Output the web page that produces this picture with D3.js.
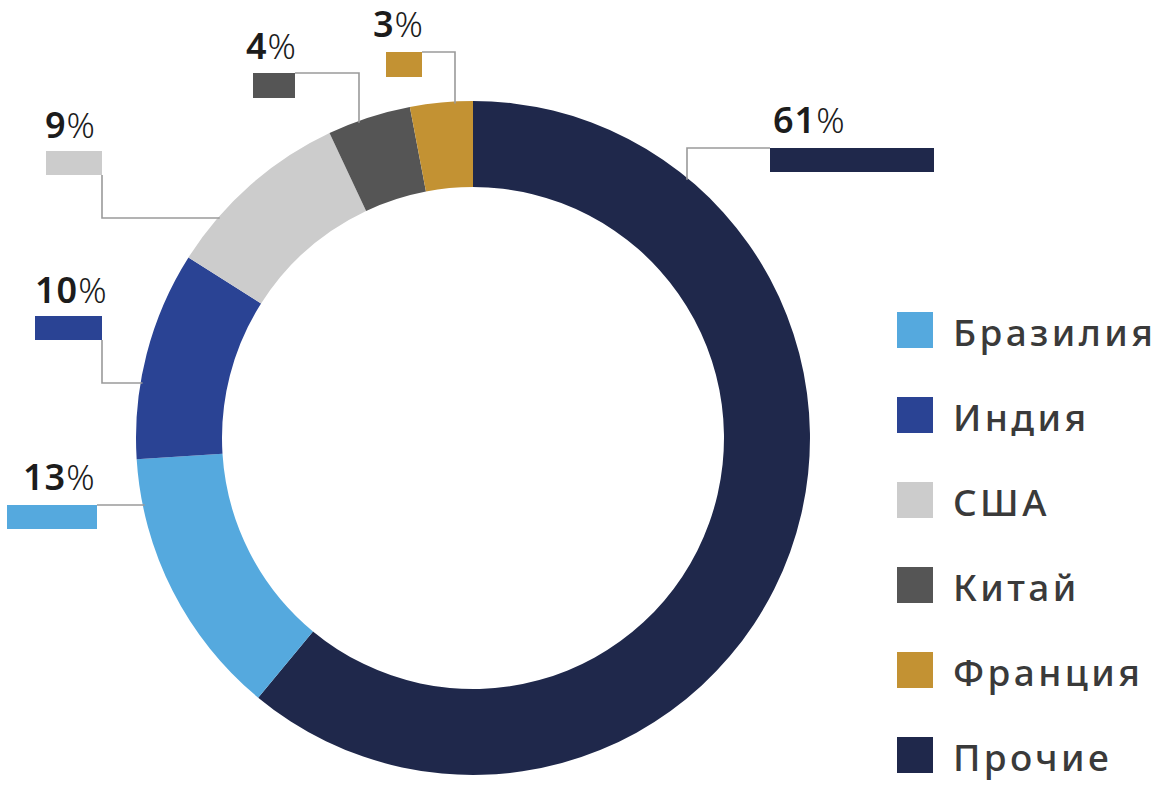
<!DOCTYPE html>
<html>
<head>
<meta charset="utf-8">
<script src="https://cdn.jsdelivr.net/npm/d3@7"></script>
<style>
  html, body { margin: 0; padding: 0; background: #ffffff; }
  svg { display: block; }
</style>
</head>
<body>
<svg id="chart" width="1167" height="795"></svg>
<script>
// ---- data ----
const categories = ["Прочие", "Бразилия", "Индия", "США", "Китай", "Франция"];
const shares = [61, 13, 10, 9, 4, 3];
const colors = ["#1f284b", "#55a9de", "#2a4394", "#cccccc", "#555555", "#c39233"];
const legendOrder = ["Бразилия", "Индия", "США", "Китай", "Франция", "Прочие"];

// ---- layout for callouts (annotation placement only) ----
const callouts = [
  { cat: "Прочие",  bar: [770, 148, 164, 24], text: [773, 133], leader: { from: [770, 148], via: 687, mode: "hv" } },
  { cat: "Франция", bar: [386, 52, 36, 25],  text: [373, 37],  leader: { from: [422, 52], via: 455, mode: "hv" } },
  { cat: "Китай",   bar: [253, 73, 42, 25],  text: [246, 59],  leader: { from: [295, 73], via: 359, mode: "hv" } },
  { cat: "США",     bar: [46, 151, 56, 24],  text: [45, 138],  leader: { from: [102, 175], via: 218, mode: "vh" } },
  { cat: "Индия",   bar: [35, 316, 67, 24],  text: [35, 303],  leader: { from: [102, 340], via: 383, mode: "vh" } },
  { cat: "Бразилия",bar: [7, 505, 90, 24],   text: [23, 490],  leader: { from: [97, 505], via: null, mode: "h" } }
];

const svg = d3.select("#chart");
const cx = 473, cy = 438, R = 337, r0 = 251;

const color = d3.scaleOrdinal().domain(categories).range(colors);

const pie = d3.pie().value(d => d.v).sort(null).startAngle(0).endAngle(2 * Math.PI);
const arcs = pie(categories.map((c, i) => ({ c, v: shares[i] })));
const arc = d3.arc().innerRadius(r0).outerRadius(R);

const g = svg.append("g").attr("transform", `translate(${cx},${cy})`);
g.selectAll("path").data(arcs).enter().append("path")
  .attr("d", arc)
  .attr("fill", d => color(d.data.c));

// leader lines
function circleY(x) { return cy - Math.sqrt(R * R - (x - cx) * (x - cx)); }
function circleX(y) { return cx - Math.sqrt(R * R - (y - cy) * (y - cy)); }

const lg = svg.append("g");
callouts.forEach(co => {
  const [x0, y0] = co.leader.from;
  let pts;
  if (co.leader.mode === "hv") {
    const x1 = co.leader.via;
    pts = [[x0, y0], [x1, y0], [x1, circleY(x1) + 2]];
  } else if (co.leader.mode === "vh") {
    const y1 = co.leader.via;
    pts = [[x0, y0], [x0, y1], [circleX(y1) + 2, y1]];
  } else {
    pts = [[x0, y0], [circleX(y0) + 2, y0]];
  }
  lg.append("path")
    .attr("d", d3.line()(pts))
    .attr("fill", "none")
    .attr("stroke", "#9a9a9a")
    .attr("stroke-width", 1.6);
});

// callout bars and labels
callouts.forEach(co => {
  const i = categories.indexOf(co.cat);
  const [bx, by, bw, bh] = co.bar;
  svg.append("rect")
    .attr("x", bx).attr("y", by).attr("width", bw).attr("height", bh)
    .attr("fill", color(co.cat));
  const t = svg.append("text")
    .attr("x", co.text[0]).attr("y", co.text[1])
    .attr("font-family", "'Noto Sans', 'DejaVu Sans', sans-serif")
    .attr("font-size", 36)
    .attr("fill", "#1c1c1c");
  t.append("tspan").attr("font-weight", 600).attr("letter-spacing", 1).text(shares[i]);
  t.append("tspan").attr("font-weight", 300).attr("font-size", 35).text("%");
});

// legend
const legend = svg.append("g");
const ly = d3.scalePoint().domain(legendOrder).range([312, 737]);
legendOrder.forEach(c => {
  const y = ly(c);
  legend.append("rect")
    .attr("x", 897).attr("y", y).attr("width", 36).attr("height", 36)
    .attr("fill", color(c));
  legend.append("text")
    .attr("x", 953).attr("y", y + 34)
    .attr("font-family", "'Noto Sans', 'DejaVu Sans', sans-serif")
    .attr("font-size", 37)
    .attr("font-weight", 500)
    .attr("letter-spacing", 3.4)
    .attr("fill", "#3a3a3a")
    .text(c);
});
</script>
</body>
</html>
